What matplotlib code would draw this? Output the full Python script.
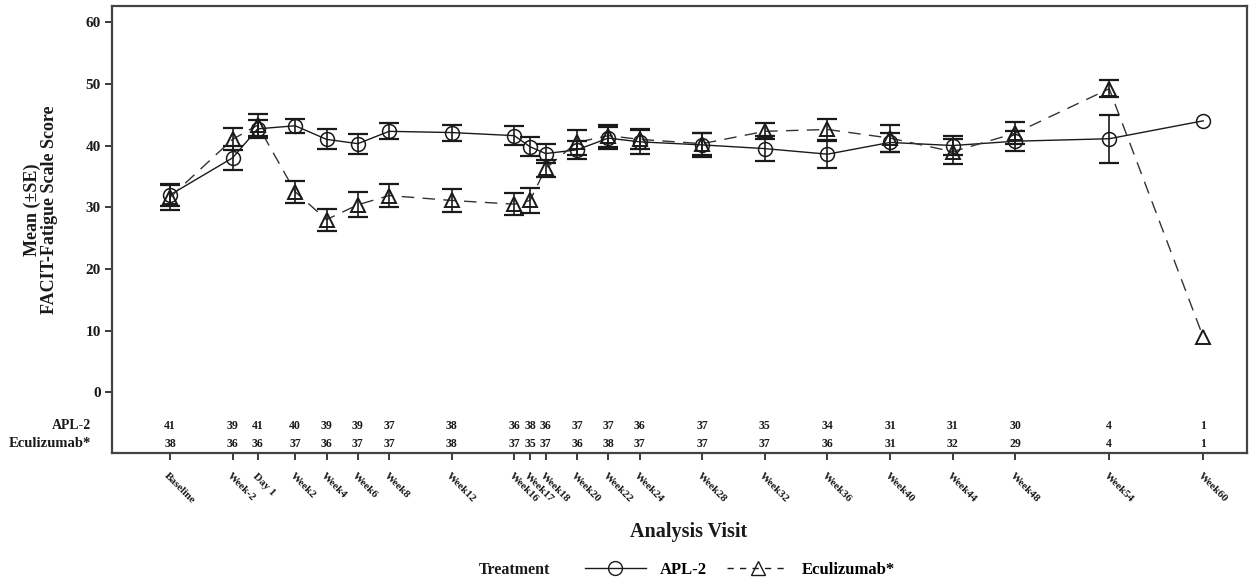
import numpy as np
import matplotlib
matplotlib.use("Agg")
import matplotlib.pyplot as plt
from matplotlib.lines import Line2D

plt.rcParams['font.family'] = ['Liberation Serif', 'DejaVu Serif']
plt.rcParams['font.weight'] = 'bold'

# visits and their position on the time axis (weeks)
visits = ['Baseline', 'Week-2', 'Day 1', 'Week2', 'Week4', 'Week6', 'Week8', 'Week12',
          'Week16', 'Week17', 'Week18', 'Week20', 'Week22', 'Week24', 'Week28',
          'Week32', 'Week36', 'Week40', 'Week44', 'Week48', 'Week54', 'Week60']
visit_week = [-6, -2, -0.4, 2, 4, 6, 8, 12, 16, 17, 18, 20, 22, 24, 28, 32, 36, 40, 44, 48, 54, 60]

apl_mean = [32.0, 38.0, 42.7, 43.2, 41.0, 40.3, 42.3, 42.1, 41.6, 39.8, 38.7, 39.3,
            41.2, 40.6, 40.1, 39.5, 38.6, 40.5, 40.0, 40.7, 41.1, 44.0]
apl_se = [1.8, 2.0, 1.5, 1.1, 1.6, 1.6, 1.3, 1.3, 1.5, 1.5, 1.6, 1.5,
          1.8, 1.9, 1.9, 2.0, 2.2, 1.6, 1.5, 1.6, 3.9, np.nan]
ecu_mean = [31.6, 41.0, 43.3, 32.5, 28.0, 30.4, 31.9, 31.1, 30.5, 31.1, 36.3, 40.5,
            41.6, 41.0, 40.3, 42.3, 42.6, 41.2, 39.0, 42.0, 49.2, 9.0]
ecu_se = [2.0, 1.8, 1.8, 1.8, 1.8, 2.0, 1.9, 1.9, 1.8, 2.0, 1.4, 2.0,
          1.8, 1.6, 1.8, 1.3, 1.7, 2.2, 2.0, 1.8, 1.4, np.nan]

apl_n = [41, 39, 41, 40, 39, 39, 37, 38, 36, 38, 36, 37, 37, 36, 37, 35, 34, 31, 31, 30, 4, 1]
ecu_n = [38, 36, 36, 37, 36, 37, 37, 38, 37, 35, 37, 36, 38, 37, 37, 37, 36, 31, 32, 29, 4, 1]

ink = '#1a1a1a'

fig = plt.figure(figsize=(12.52, 5.81), dpi=100)
ax = fig.add_axes([0.0895, 0.2203, 0.9065, 0.7694])

x = np.array(visit_week, dtype=float)

# APL-2: solid line, open circles
ax.plot(x, apl_mean, color=ink, lw=1.0, zorder=2)
ax.errorbar(x, apl_mean, yerr=apl_se, fmt='none', ecolor=ink, elinewidth=1.2,
            capsize=7, capthick=1.6, zorder=3)
ax.plot(x, apl_mean, 'o', ms=10, mfc='none', mec=ink, mew=1.1, zorder=4)

# Eculizumab: dashed line, open triangles
ax.plot(x, ecu_mean, color='#333333', lw=1.0, ls=(0, (9, 6)), zorder=2)
ax.errorbar(x, ecu_mean, yerr=ecu_se, fmt='none', ecolor=ink, elinewidth=1.2,
            capsize=7, capthick=1.6, zorder=3)
ax.plot(x, ecu_mean, '^', ms=10, mfc='none', mec=ink, mew=1.4, zorder=4)

ax.set_xlim(-9.7, 62.8)
ax.set_ylim(-9.8, 62.6)
ax.set_yticks([0, 10, 20, 30, 40, 50, 60])
ax.tick_params(axis='y', direction='out', length=5, width=1.2, labelsize=11, colors=ink, pad=3)
ax.set_xticks(x)
ax.set_xticklabels([])
ax.tick_params(axis='x', direction='out', length=5, width=1.2, colors=ink)
for s in ax.spines.values():
    s.set_linewidth(1.6)
    s.set_color('#444444')

# rotated visit labels
for xi, lab in zip(x, visits):
    ax.text(xi - 0.25, -0.048, lab, transform=ax.get_xaxis_transform(), rotation=-45,
            rotation_mode='anchor', ha='left', va='center', fontsize=8,
            fontweight='bold', color=ink)

# number of subjects rows
for xi, a, e in zip(x, apl_n, ecu_n):
    ax.text(xi, -5.4, str(a), ha='center', va='center', fontsize=8.5, color=ink)
    ax.text(xi, -8.3, str(e), ha='center', va='center', fontsize=8.5, color=ink)
ax.text(-0.0185, -5.4, 'APL-2', transform=ax.get_yaxis_transform(), ha='right',
        va='center', fontsize=10, color=ink)
ax.text(-0.0185, -8.3, 'Eculizumab*', transform=ax.get_yaxis_transform(), ha='right',
        va='center', fontsize=10.5, color=ink)

ax.text(-0.0626, 0.545, 'Mean (±SE)\nFACIT-Fatigue Scale Score', transform=ax.transAxes,
        rotation=90, ha='center', va='center', fontsize=13, linespacing=1.0,
        fontweight='bold', color=ink, multialignment='center')
fig.text(0.55, 0.085, 'Analysis Visit', ha='center', va='center', fontsize=14.5,
         fontweight='bold', color=ink)

# legend
fig.text(0.411, 0.019, 'Treatment', ha='center', va='center', fontsize=11.5,
         fontweight='bold', color=ink)
h1 = Line2D([], [], color=ink, lw=1.0, marker='o', ms=10, mfc='none', mec=ink)
h2 = Line2D([], [], color=ink, lw=1.0, ls=(0, (4.5, 4.5)), marker='^', ms=10, mfc='none', mec=ink)
fig.legend([h1, h2], ['APL-2', 'Eculizumab*'], loc='center left',
           bbox_to_anchor=(0.455, 0.019), ncol=2, frameon=False, fontsize=12,
           handlelength=3.7, columnspacing=1.2, handletextpad=0.8)

fig.savefig('out.png', dpi=100)
